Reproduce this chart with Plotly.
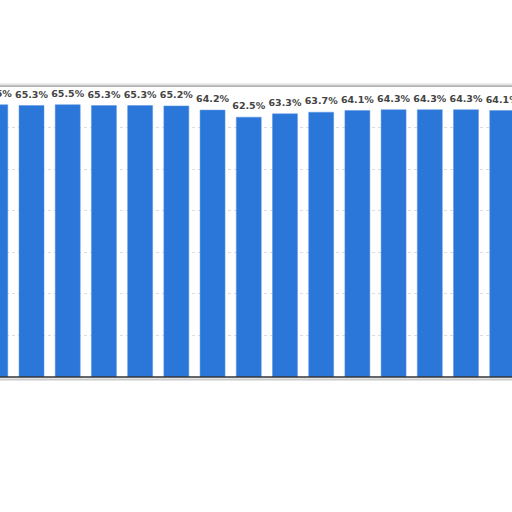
import plotly.graph_objects as go

categories = list(range(15))
values = [65.5, 65.3, 65.5, 65.3, 65.3, 65.2, 64.2, 62.5, 63.3, 63.7, 64.1, 64.3, 64.3, 64.3, 64.1]
labels = [f"{v:.1f}%" for v in values]

SHIFT = 24  # extra figure width hidden off the left edge of the page

fig = go.Figure()
fig.add_trace(go.Bar(
    x=categories, y=values,
    marker=dict(color="#2b76d9", line=dict(color="#5a95e2", width=0.5)),
    width=0.69, hoverinfo="skip",
))
fig.add_trace(go.Scatter(
    x=categories, y=values, text=labels, mode="markers+text",
    textposition="top center", cliponaxis=False,
    marker=dict(size=7, opacity=0),
    textfont=dict(family="DejaVu Sans", size=9.5, color="#444444", weight="bold"),
    hoverinfo="skip",
))
fig.update_layout(
    width=512 + SHIFT, height=512,
    margin=dict(l=0, r=0, t=86, b=135),
    paper_bgcolor="white", plot_bgcolor="white",
    showlegend=False,
    xaxis=dict(range=[0.13 - SHIFT / 36.2, 14.27], showticklabels=False, showgrid=False,
               zeroline=False, showline=False, fixedrange=True),
    yaxis=dict(range=[0, 70], showticklabels=False, dtick=10,
               showgrid=True, gridcolor="#dddddd", griddash="dot", gridwidth=1,
               zeroline=False, showline=False),
    shapes=[
        dict(type="line", xref="paper", yref="paper", x0=0, x1=1, y0=1, y1=1,
             line=dict(color="#b5b5b5", width=2)),
        dict(type="line", xref="paper", yref="paper", x0=0, x1=1, y0=1.006, y1=1.006,
             line=dict(color="#e6e6e6", width=2)),
        dict(type="line", xref="paper", yref="paper", x0=0, x1=1, y0=0, y1=0,
             line=dict(color="#333333", width=1.5)),
        dict(type="line", xref="paper", yref="paper", x0=0, x1=1, y0=-0.009, y1=-0.009,
             line=dict(color="#cccccc", width=2)),
    ],
)
fig.write_html(
    "out.html", config={"displayModeBar": False},
    post_script=("document.body.style.margin='0';"
                 "document.body.style.overflow='hidden';"
                 f"document.body.style.marginLeft='-{SHIFT}px';"),
)
